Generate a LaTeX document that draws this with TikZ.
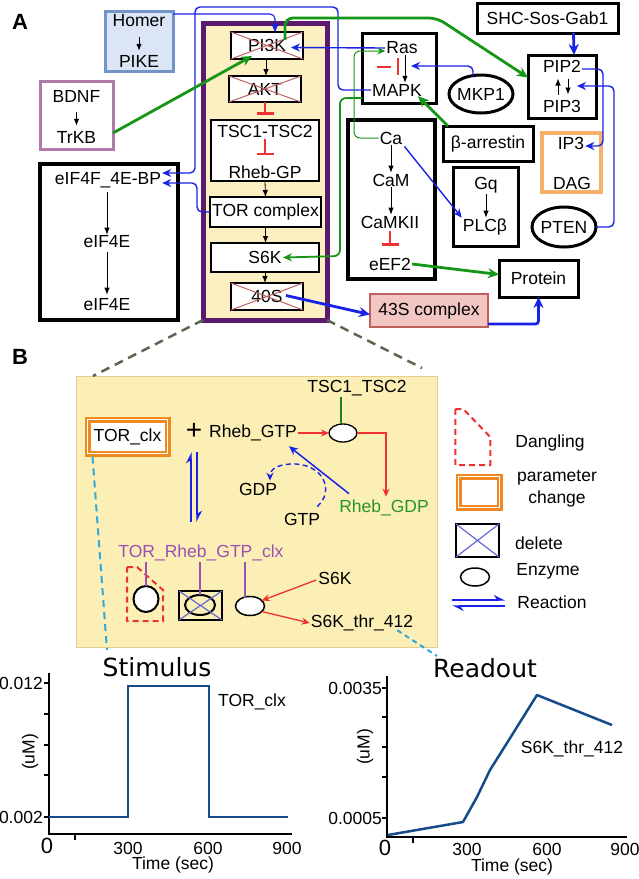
\documentclass[tikz,border=0pt]{standalone}
\usepackage{fontspec}
\setmainfont{Liberation Sans}
\newfontfamily\djv{DejaVu Sans}
\usetikzlibrary{arrows.meta,calc,shapes.geometric}
\definecolor{cblue}{RGB}{25,35,230}
\definecolor{cgreen}{RGB}{22,150,22}
\definecolor{cpurple}{RGB}{92,26,110}
\definecolor{cyellow}{RGB}{252,239,193}
\definecolor{byellow}{RGB}{251,239,182}
\definecolor{byedge}{RGB}{230,205,140}
\definecolor{cred}{RGB}{238,50,50}
\definecolor{ccross}{RGB}{190,100,100}
\definecolor{hfill}{RGB}{219,229,245}
\definecolor{hedge}{RGB}{115,148,201}
\definecolor{bedge}{RGB}{176,122,168}
\definecolor{oedge}{RGB}{246,176,106}
\definecolor{pfill}{RGB}{242,198,194}
\definecolor{pedge}{RGB}{192,96,90}
\definecolor{orng}{RGB}{240,138,32}
\definecolor{ptext}{RGB}{155,80,180}
\definecolor{gdpc}{RGB}{40,150,40}
\definecolor{olivd}{RGB}{94,102,80}
\definecolor{cyand}{RGB}{48,168,216}
\definecolor{plotc}{RGB}{21,75,136}
\definecolor{xblue}{RGB}{105,105,210}
\begin{document}
\begin{tikzpicture}[x=1pt,y=-1pt,
 every node/.style={font=\fontsize{17.5}{20}\selectfont, inner sep=1pt},
 bx/.style={draw, line width=2.8pt, fill=white, inner sep=0pt, outer sep=0pt},
 arr/.style={-{Latex[length=7pt,width=5.5pt]}, line width=0.8pt},
 blu/.style={cblue, line width=1.4pt, -{Stealth[length=9pt,width=8pt]}, rounded corners=5pt},
 bluk/.style={cblue, line width=2.8pt, -{Stealth[length=11pt,width=10pt]}, rounded corners=3pt},
 grn/.style={cgreen, line width=2.8pt, -{Stealth[length=11pt,width=10pt]}, rounded corners=8pt},
 grnm/.style={cgreen, line width=1.8pt, -{Stealth[length=9pt,width=8pt]}, rounded corners=6pt},
 grnt/.style={cgreen, line width=1pt, -{Stealth[length=8pt,width=7pt]}, rounded corners=6pt},
 inh/.style={cred, line width=1.5pt, -{Bar[width=17pt,line width=2.6pt]}},
 crs/.style={ccross, line width=1pt},
 redar/.style={cred, line width=1.3pt, -{Stealth[length=8pt,width=7pt]}},
 harp/.style={cblue, line width=1.3pt, -{Stealth[left,length=10pt,width=10pt]}},
 ell/.style={ellipse, draw, inner sep=0pt, outer sep=0pt},
 param/.style={draw=orng, double=white, double distance=1.4pt, line width=2.3pt, fill=white, inner sep=0pt, outer sep=0pt},
 dang/.style={cred, line width=2pt, dash pattern=on 6pt off 4pt},
 plt/.style={font=\fontsize{17.5}{19}\selectfont},
 ax/.style={line width=2pt},
 curve/.style={plotc, line width=2.5pt}
]
\fill[white] (0,0) rectangle (638,879);
\useasboundingbox (0,0) rectangle (638,879);

% ---------------- Panel A ----------------
\node[font=\bfseries\fontsize{22}{24}\selectfont] (labA) at (20,22) {A};

\node[draw=hedge, fill=hfill, line width=3pt, minimum width=68pt, minimum height=60pt, outer sep=0pt] (homerbox) at (139,41) {};
\node (homer) at (139,21) {Homer};
\node (pike) at (139,61) {PIKE};
\draw[arr, shorten <=9pt, shorten >=3pt] (homer.south) -- (pike.north);

\node[draw=bedge, fill=white, line width=3pt, minimum width=73pt, minimum height=68pt, outer sep=0pt] (bdnfbox) at (76.5,115) {};
\node (bdnf) at (76.5,96) {BDNF};
\node (trkb) at (76.5,137) {TrKB};
\draw[arr, shorten <=9pt, shorten >=4pt] (bdnf.south) -- (trkb.north);

\node[draw=cpurple, fill=cyellow, line width=5pt, minimum width=124pt, minimum height=297pt, outer sep=0pt] (mtor) at (265,171.5) {};

\node[bx, minimum width=72pt, minimum height=27pt] (pi3k) at (267,45.5) {PI3K};
\draw[crs] (pi3k.north west) -- (pi3k.south east) (pi3k.south west) -- (pi3k.north east);
\node[bx, minimum width=72pt, minimum height=26pt] (akt) at (265,89) {AKT};
\draw[crs] (akt.north west) -- (akt.south east) (akt.south west) -- (akt.north east);
\node[bx, minimum width=108pt, minimum height=61pt] (tscbox) at (265,150.5) {};
\node (tsc) at (265,131) {TSC1-TSC2};
\node (rhebgp) at (265,172) {Rheb-GP};
\node[bx, minimum width=111pt, minimum height=30pt] (tor) at (265.5,212) {TOR complex};
\node[bx, minimum width=108pt, minimum height=29pt] (s6k) at (265,257.5) {S6K};
\node[bx, minimum width=72pt, minimum height=27pt] (s40) at (267,296.5) {40S};
\draw[crs] (s40.north west) -- (s40.south east) (s40.south west) -- (s40.north east);

\draw[arr] ($(pi3k.south)+(-1,0)$) -- ($(akt.north)+(1,0)$);
\draw[inh] (akt.south) -- ($(akt.south)+(0,13)$);
\draw[inh] ($(tsc.south)+(0,1)$) -- ($(tsc.south)+(0,17)$);
\draw[arr] (tscbox.south) -- (tor.north);
\draw[arr] (tor.south) -- (tor.south |- s6k.north);
\draw[arr] (s6k.south) -- (s6k.south |- s40.north);

\node[bx, line width=3pt, minimum width=74pt, minimum height=70pt] (rasbox) at (399,68) {};
\node (ras) at (402,48) {Ras};
\node (mapk) at (397,90) {MAPK};
\draw[arr] ($(ras.south)+(3,0)$) -- ($(mapk.north)+(8,0)$);
\draw[cred, line width=2.2pt] ($(rasbox.center)+(-22,-1)$) -- ($(rasbox.center)+(-8,-1)$);
\draw[cred, line width=2.6pt] ($(rasbox.center)+(-1,-10)$) -- ($(rasbox.center)+(-1,7)$);

\node[ell, line width=3pt, minimum width=64pt, minimum height=38pt] (mkp) at (481,94) {};
\node (mkpt) at (481,94) {MKP1};
\node[bx, line width=3pt, minimum width=141pt, minimum height=30pt] (shc) at (547.5,18) {SHC-Sos-Gab1};
\node[bx, line width=3pt, minimum width=68pt, minimum height=63pt] (pipbox) at (562,86.5) {};
\node (pip2) at (562,66) {PIP2};
\node (pip3) at (562,106) {PIP3};
\draw[arr] ($(pipbox.center)+(-4,8)$) -- ($(pipbox.center)+(-4,-8)$);
\draw[arr] ($(pipbox.center)+(6,-8)$) -- ($(pipbox.center)+(6,8)$);
\node[bx, line width=3pt, minimum width=90pt, minimum height=35pt] (barr) at (488,143.5) {β-arrestin};
\node[draw=oedge, fill=white, line width=3.5pt, minimum width=59pt, minimum height=59pt, outer sep=0pt] (ipbox) at (571.5,162.5) {};
\node (ip3) at (571,143) {IP3};
\node (dag) at (572,183) {DAG};

\node[bx, line width=3.5pt, minimum width=87pt, minimum height=159pt] (cabox) at (391.5,199.5) {};
\node (ca) at (391,138) {Ca};
\node (cam) at (391,180) {CaM};
\node (camk) at (390,222) {CaMKII};
\node (eef2) at (390,264) {eEF2};
\draw[arr] (ca.south) -- (cam.north);
\draw[arr] (cam.south) -- (cam.south |- camk.north);
\draw[inh] (camk.south |- 0,231) -- (camk.south |- 0,246);

\node[bx, line width=3pt, minimum width=65pt, minimum height=79pt] (gqbox) at (485.5,206.5) {};
\node (gq) at (486,185) {Gq};
\node (plc) at (485,227) {PLCβ};
\draw[arr] (gq.south) -- (gq.south |- plc.north);

\node[ell, line width=3pt, minimum width=64pt, minimum height=40pt] (pten) at (564,227) {};
\node (ptent) at (564,227) {PTEN};
\node[bx, line width=3pt, minimum width=79pt, minimum height=37pt] (protein) at (538.5,278.5) {Protein};
\node[draw=pedge, fill=pfill, line width=2.5pt, minimum width=118pt, minimum height=33pt, outer sep=0pt] (s43) at (429,310.5) {43S complex};

\node[bx, line width=3.5pt, minimum width=138pt, minimum height=156pt] (eifbox) at (109,242) {};
\node (eifbp) at (108,180) {eIF4F\_4E-BP};
\node (eif1) at (107,242) {eIF4E};
\node (eif2) at (107,305) {eIF4E};
\draw[arr, shorten <=3pt] (eifbp.south -| eif1.north) -- (eif1.north);
\draw[arr, shorten <=3pt, shorten >=3pt] (eif1.south) -- (eif2.north);

% blue connectors
\draw[blu, line width=1.1pt] ($(homerbox.north east)+(0,3)$) -| ($(pi3k.north)+(8,0)$);
\draw[blu] (ras.west) -- ($(pi3k.east)+(-12,2)$);
\draw[blu] (mapk.west) -- (338,90) -- (338,7) -- (195,7) -- (195,173) -- ($(eifbp.east)+(0,-7)$);
\draw[blu] (tor.west) -- (197,212) -- (197,183) -- ($(eifbp.east)+(0,3)$);
\coordinate (rasmid) at (411,66);
\draw[blu] ($(mkp.north)+(-8,1)$) |- (rasmid);
\draw[bluk] ($(shc.south)+(26,0)$) -- ($(pipbox.north)+(12,0)$);
\draw[blu] ($(pip2.east)+(0,3)$) -- (603,69) -- (603,146) -- ($(ip3.east)+(0,3)$);
\coordinate (pipdown) at (577,86);
\draw[blu] (pten.east) -- (614,227) -- (614,86) -- (pipdown);
\draw[blu] ($(ca.south east)+(1,1)$) -- (plc.north west);
\draw[bluk] ($(s40.east)+(-17,-1)$) -- ($(s43.west)+(0,4)$);
\draw[bluk] ($(s43.south east)+(0,-3)$) -| (protein.south);

% green connectors
\draw[grn] ($(bdnfbox.east)+(0,18)$) -- ($(pi3k.south)+(-15,-3)$);
\draw[grn] ($(pi3k.north)+(18,8)$) -- (285,18) -- (437,18) -- ($(pipbox.west)+(0,-9)$);
\draw[grnt] (ca.west) -- (354,138) -- (354,51) -- ($(ras.west)+(0,3)$);
\draw[grnm] ($(rasbox.south west)+(0,-5)$) -- (340,98) -- (340,256) -- ($(s6k.east)+(-36,0)$);
\draw[grn] ($(barr.north west)+(5,0)$) -- ($(mapk.south east)+(-5,-1)$);
\draw[grn] (eef2.east) -- ($(protein.west)+(0,-4)$);

% ---------------- Panel B ----------------
\node[font=\bfseries\fontsize{22}{24}\selectfont] (labB) at (20,357) {B};
\node[draw=byedge, fill=byellow, line width=1pt, minimum width=361pt, minimum height=271pt, outer sep=0pt] (bpanel) at (256.5,511.5) {};
\draw[olivd, line width=2.5pt, dash pattern=on 9pt off 6pt] (mtor.south west) -- ($(bpanel.north west)+(17,0)$);
\draw[olivd, line width=2.5pt, dash pattern=on 9pt off 6pt] (mtor.south east) -- ($(bpanel.north east)+(-15,-8)$);

\node[param, minimum width=80pt, minimum height=34pt] (torclx) at (127.5,436.5) {TOR\_clx};
\node[font=\fontsize{28}{30}\selectfont] (plus) at (194,431) {+};
\node (rhebgtp) at (253,433) {Rheb\_GTP};
\node (tsc2) at (357,388) {TSC1\_TSC2};
\node[ell, line width=1.3pt, fill=white, minimum width=28pt, minimum height=18pt] (enz1) at (343,433) {};
\node[text=gdpc] (rhebgdp) at (384,508) {Rheb\_GDP};
\node (gdp) at (258,489) {GDP};
\node (gtp) at (302,519) {GTP};
\draw[redar] (rhebgtp.east) -- (enz1.west);
\draw[redar] (enz1.east) -| ($(rhebgdp.north)+(2,-2)$);
\draw[gdpc!85!black, line width=1.3pt] ($(enz1.north |- tsc2.south)+(-2,0)$) -- ($(enz1.north)+(-2,0)$);
\draw[cblue, line width=1.5pt, -{Stealth[length=9pt,width=8pt]}] ($(rhebgdp.north west)+(11,-5)$) -- ($(rhebgtp.south east)+(-9,4)$);
\draw[cblue, line width=1.4pt, dash pattern=on 5pt off 3.5pt, -{Stealth[length=8pt,width=7pt]}] ($(gtp.north east)+(-4,-5)$) .. controls (336,490) and (322,462) .. (290,464) .. controls (276,465) and (270,470) .. ($(gdp.north)+(12,-1)$);
\coordinate (rtop) at (194,452);
\coordinate (rbot) at (194,522);
\draw[harp] ($(rbot)+(-3,0)$) -- ($(rtop)+(-3,0)$);
\draw[harp] ($(rtop)+(3,0)$) -- ($(rbot)+(3,0)$);

\node[text=ptext] (trgc) at (201,553) {TOR\_Rheb\_GTP\_clx};
\node[ell, line width=2pt, fill=white, minimum width=25pt, minimum height=26pt] (c1) at (146,599) {};
\draw[dang] ($(c1)+(-19,-32)$) -- ($(c1)+(-9,-32)$) -- ($(c1)+(9,-16)$) -- ($(c1)+(17,-9)$) -- ($(c1)+(17,22)$) -- ($(c1)+(-19,22)$) -- cycle;
\node[draw, line width=1.5pt, minimum width=43pt, minimum height=29pt, inner sep=0pt, outer sep=0pt] (delbox) at (200.5,605.5) {};
\node[ell, line width=2pt, minimum width=30pt, minimum height=20pt] (c2) at (200,605) {};
\draw[xblue, line width=1.2pt] (delbox.north west) -- (delbox.south east) (delbox.south west) -- (delbox.north east);
\node[ell, line width=1.5pt, fill=white, minimum width=29pt, minimum height=19pt] (enz2) at (250,606) {};
\draw[ptext, line width=1.5pt] (c1.north |- trgc.south) -- (c1.north);
\draw[ptext, line width=1.5pt] (c2.north |- trgc.south) -- (c2.north);
\draw[ptext, line width=1.5pt] ($(enz2.north |- trgc.south)+(-5,0)$) -- ($(enz2.north)+(-5,1)$);
\node (s6kb) at (335,578) {S6K};
\node (s6kthr) at (362,623) {S6K\_thr\_412};
\draw[redar] ($(s6kb.west)+(-1,2)$) -- (enz2.25);
\draw[redar] (enz2.-25) -- (s6kthr.west);

% legend
\node (ldang) at (550,443) {Dangling};
\draw[dang] ($(ldang.west)+(-59,-34)$) -- ($(ldang.west)+(-51,-34)$) -- ($(ldang.west)+(-24,-6)$) -- ($(ldang.west)+(-24,22)$) -- ($(ldang.west)+(-59,22)$) -- cycle;
\node[param, minimum width=41pt, minimum height=31pt] (lparam) at (479,492) {};
\node[align=center, font=\fontsize{17.5}{22}\selectfont] (lparamt) at (557,489) {parameter\\change};
\node[draw, line width=1.5pt, minimum width=43pt, minimum height=33pt, inner sep=0pt, outer sep=0pt] (ldel) at (477.5,540.5) {};
\draw[xblue, line width=1.2pt] (ldel.north west) -- (ldel.south east) (ldel.south west) -- (ldel.north east);
\node (ldelt) at (539,543) {delete};
\node[ell, line width=1.5pt, minimum width=29pt, minimum height=18pt] (lenz) at (475,577) {};
\node (lenzt) at (548,571) {Enzyme};
\node (lreact) at (552,602) {Reaction};
\draw[harp] ($(lreact.west)+(-64,-2)$) -- ($(lreact.west)+(-11,-2)$);
\draw[harp] ($(lreact.west)+(-11,4)$) -- ($(lreact.west)+(-64,4)$);

% cyan dashed links
\coordinate (stimtop) at (107,650);
\coordinate (readtop) at (437,656);
\draw[cyand, line width=2pt, dash pattern=on 7pt off 5pt] ($(torclx.south west)+(5,3)$) -- (stimtop);
\draw[cyand, line width=2pt, dash pattern=on 5pt off 4pt] ($(s6kthr.south east)+(-17,-2)$) -- (readtop);

% ---------------- Plots ----------------
\node[font=\djv\fontsize{25}{28}\selectfont] (stim) at (157,667) {Stimulus};
\draw[ax] (49,673) -- (49,834) -- (292,834);
\foreach \yy in {683,714,745,775,817} \draw[line width=1.2pt] (49,\yy) -- (44,\yy);
\draw[line width=1.2pt] (75,834) -- (75,840);
\node[plt, anchor=east] (s012) at (44,683) {0.012};
\node[plt, anchor=east] (s002) at (44,817) {0.002};
\node[font=\fontsize{22}{24}\selectfont] (s0) at (47,846) {0};
\node[plt] (s300) at (128,848) {300};
\node[plt] (s600) at (208,848) {600};
\node[plt] (s900) at (287,848) {900};
\node[plt] (stime) at (173,865) {Time (sec)};
\node[plt, rotate=90] (sum) at (30,752) {(uM)};
\draw[curve] (49,817) -- (128,817) -- (128,686) -- (209,686) -- (209,817) -- (288,817);
\node[plt] (stor) at (252,702) {TOR\_clx};

\node[font=\djv\fontsize{25}{28}\selectfont] (readout) at (485,668) {Readout};
\draw[ax] (387,676) -- (387,837) -- (627,837);
\foreach \yy in {688,717,747,777,818} \draw[line width=1.2pt] (387,\yy) -- (382,\yy);
\draw[line width=1.2pt] (413,837) -- (413,843);
\node[plt, anchor=east] (r35) at (383,688) {0.0035};
\node[plt, anchor=east] (r05) at (383,818) {0.0005};
\node[font=\fontsize{22}{24}\selectfont] (r0) at (385,848) {0};
\node[plt] (r300) at (467,849) {300};
\node[plt] (r600) at (547,849) {600};
\node[plt] (r900) at (625,849) {900};
\node[plt] (rtime) at (512,867) {Time (sec)};
\node[plt, rotate=90] (rum) at (365,747) {(uM)};
\draw[curve, line join=round] (388,835) -- (463,822) -- (477,797) -- (490,770) -- (507,743) -- (537,695) -- (612,725);
\node[plt] (rs6k) at (572,749) {S6K\_thr\_412};
\end{tikzpicture}
\end{document}
